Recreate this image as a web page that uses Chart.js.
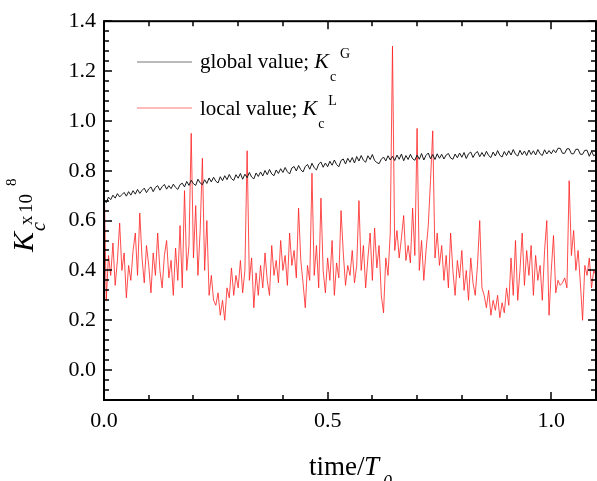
<!DOCTYPE html>
<html>
<head>
<meta charset="utf-8">
<script src="https://cdn.jsdelivr.net/npm/chart.js@4.4.1/dist/chart.umd.min.js"></script>
<style>
  html, body { margin: 0; padding: 0; background: #fff; }
  #wrap { width: 597px; height: 481px; }
</style>
</head>
<body>
<div id="wrap"><canvas id="c" width="597" height="481"></canvas></div>
<script>
// ---- data ----
const sampleCount = 221;          // samples from t = 0 to 1.1 in steps of 0.005
const timeStep = 0.005;
const time = Array.from({length: sampleCount}, (_, i) => +(i * timeStep).toFixed(3));

const globalValue = [
  0.685,0.672,0.694,0.684,0.702,0.690,0.708,0.695,0.704,0.713,
  0.698,0.716,0.702,0.720,0.706,0.725,0.709,0.721,0.730,0.712,
  0.727,0.735,0.716,0.733,0.740,0.722,0.736,0.745,0.726,0.740,
  0.728,0.746,0.733,0.725,0.744,0.750,0.735,0.757,0.741,0.762,
  0.748,0.741,0.766,0.751,0.744,0.764,0.749,0.771,0.755,0.774,
  0.758,0.751,0.776,0.760,0.780,0.764,0.785,0.768,0.761,0.784,
  0.770,0.789,0.766,0.786,0.772,0.793,0.775,0.767,0.791,0.777,
  0.795,0.779,0.801,0.784,0.805,0.787,0.780,0.803,0.789,0.808,
  0.793,0.813,0.796,0.787,0.811,0.817,0.799,0.821,0.804,0.795,
  0.817,0.825,0.806,0.830,0.812,0.803,0.827,0.835,0.814,0.831,
  0.816,0.838,0.822,0.843,0.825,0.816,0.841,0.847,0.827,0.850,
  0.834,0.853,0.831,0.857,0.839,0.861,0.842,0.834,0.860,0.845,
  0.865,0.841,0.833,0.828,0.846,0.855,0.839,0.860,0.843,0.858,
  0.841,0.863,0.846,0.867,0.840,0.861,0.845,0.866,0.848,0.842,
  0.863,0.846,0.869,0.843,0.862,0.871,0.848,0.865,0.845,0.868,
  0.850,0.866,0.847,0.863,0.869,0.851,0.846,0.867,0.852,0.871,
  0.854,0.873,0.849,0.868,0.875,0.853,0.870,0.877,0.856,0.873,
  0.857,0.878,0.861,0.853,0.875,0.859,0.881,0.862,0.855,0.877,
  0.861,0.880,0.863,0.885,0.866,0.859,0.882,0.864,0.879,0.861,
  0.883,0.865,0.880,0.863,0.885,0.868,0.861,0.884,0.867,0.881,
  0.868,0.884,0.872,0.890,0.890,0.870,0.870,0.888,0.888,0.868,
  0.868,0.886,0.886,0.866,0.866,0.882,0.882,0.858,0.878,0.860,
  0.866
];

const localValue = [
  0.80,0.28,0.46,0.38,0.51,0.34,0.44,0.59,0.40,0.47,
  0.29,0.42,0.36,0.48,0.55,0.38,0.63,0.45,0.35,0.50,
  0.42,0.31,0.47,0.38,0.55,0.40,0.33,0.46,0.52,0.37,
  0.44,0.30,0.49,0.36,0.58,0.33,0.72,0.40,0.50,0.95,
  0.45,0.66,0.38,0.56,0.85,0.40,0.60,0.30,0.38,0.28,
  0.26,0.31,0.22,0.28,0.20,0.33,0.29,0.41,0.30,0.38,
  0.33,0.44,0.31,0.40,0.88,0.36,0.45,0.25,0.39,0.30,
  0.42,0.33,0.47,0.36,0.30,0.50,0.38,0.44,0.35,0.52,
  0.40,0.46,0.34,0.55,0.42,0.48,0.37,0.65,0.44,0.35,
  0.25,0.42,0.36,0.79,0.38,0.50,0.33,0.69,0.40,0.31,
  0.45,0.36,0.52,0.30,0.43,0.37,0.64,0.47,0.34,0.42,
  0.38,0.48,0.35,0.42,0.68,0.40,0.50,0.33,0.45,0.55,
  0.36,0.57,0.41,0.50,0.30,0.23,0.45,0.38,0.55,1.30,
  0.48,0.56,0.45,0.53,0.62,0.44,0.50,0.43,0.65,0.46,
  0.97,0.40,0.52,0.36,0.48,0.58,0.76,0.96,0.45,0.55,
  0.42,0.50,0.36,0.46,0.33,0.55,0.40,0.30,0.44,0.37,
  0.48,0.32,0.40,0.28,0.45,0.35,0.30,0.42,0.60,0.33,
  0.30,0.25,0.32,0.22,0.28,0.24,0.30,0.21,0.27,0.23,
  0.33,0.26,0.45,0.30,0.52,0.28,0.40,0.55,0.34,0.48,
  0.38,0.50,0.30,0.46,0.36,0.42,0.28,0.48,0.60,0.22,
  0.40,0.54,0.31,0.36,0.34,0.35,0.37,0.33,0.76,0.46,
  0.56,0.40,0.48,0.35,0.20,0.42,0.38,0.45,0.33,0.40,
  0.38
];

const xTicks = [0.0, 0.5, 1.0];
const yTicks = [0.0, 0.2, 0.4, 0.6, 0.8, 1.0, 1.2, 1.4];
const xRange = [0, 1.1];
const yRange = [-0.12, 1.4];
const xMinorStep = 0.1;
const yMinorStep = 0.04;

const SERIF = '"Liberation Serif", "Times New Roman", serif';

const framePlugin = {
  id: 'framePlugin',
  afterDraw(chart) {
    const ctx = chart.ctx;
    const a = chart.chartArea;
    const xs = chart.scales.x, ys = chart.scales.y;
    ctx.save();
    ctx.fillStyle = '#000';
    // frame
    ctx.strokeStyle = '#000';
    ctx.lineWidth = 2;
    ctx.strokeRect(a.left, a.top, a.right - a.left, a.bottom - a.top);
    // inward ticks
    const nx = Math.round((xRange[1] - xRange[0]) / xMinorStep);
    for (let i = 0; i <= nx; i++) {
      const v = xRange[0] + i * xMinorStep;
      const p = Math.round(xs.getPixelForValue(v));
      const major = xTicks.some(t => Math.abs(t - v) < 1e-6);
      const len = major ? 8 : 5;
      ctx.fillRect(p - 0.75, a.bottom - len, 1.5, len);
      ctx.fillRect(p - 0.75, a.top, 1.5, len);
    }
    const ny = Math.round((yRange[1] - yRange[0]) / yMinorStep);
    for (let i = 0; i <= ny; i++) {
      const v = yRange[0] + i * yMinorStep;
      const p = Math.round(ys.getPixelForValue(v));
      const major = yTicks.some(t => Math.abs(t - v) < 1e-6);
      const len = major ? 8 : 5;
      ctx.fillRect(a.left, p - 0.75, len, 1.5);
      ctx.fillRect(a.right - len, p - 0.75, len, 1.5);
    }

    ctx.textBaseline = 'alphabetic';
    ctx.textAlign = 'left';

    // x axis title: time/T0
    ctx.font = '27px ' + SERIF;
    ctx.fillText('time/', 309, 475);
    ctx.font = 'italic 27px ' + SERIF;
    ctx.fillText('T', 364, 475);
    ctx.font = 'italic 18px ' + SERIF;
    ctx.fillText('0', 383, 488);

    // y axis title: Kc x10^8 (rotated)
    ctx.save();
    ctx.translate(33, 252);
    ctx.rotate(-Math.PI / 2);
    ctx.font = 'italic 30px ' + SERIF;
    ctx.fillText('K', 0, 0);
    ctx.font = 'italic 20px ' + SERIF;
    ctx.fillText('c', 21, 12);
    ctx.font = '19px ' + SERIF;
    ctx.fillText('x', 27, -1);
    ctx.fillText('10', 39, -1);
    ctx.font = '15px ' + SERIF;
    ctx.fillText('8', 66, -17);
    ctx.restore();

    // legend
    ctx.lineWidth = 1;
    ctx.strokeStyle = '#777';
    ctx.beginPath(); ctx.moveTo(137, 62); ctx.lineTo(192, 62); ctx.stroke();
    ctx.strokeStyle = '#f77';
    ctx.beginPath(); ctx.moveTo(137, 108); ctx.lineTo(192, 108); ctx.stroke();

    const entries = [
      {text: 'global value; ', sup: 'G', y: 68},
      {text: 'local value; ', sup: 'L', y: 115}
    ];
    for (const e of entries) {
      ctx.font = '21px ' + SERIF;
      ctx.fillText(e.text, 200, e.y);
      let x = 200 + ctx.measureText(e.text).width;
      ctx.font = 'italic 22px ' + SERIF;
      ctx.fillText('K', x, e.y);
      x += ctx.measureText('K').width + 1;
      ctx.font = '14px ' + SERIF;
      ctx.fillText('c', x, e.y + 13);
      ctx.fillText(e.sup, x + 10, e.y - 10);
    }
    ctx.restore();
  }
};

new Chart(document.getElementById('c'), {
  type: 'line',
  data: {
    datasets: [
      {
        label: 'global value',
        data: time.map((t, i) => ({x: t, y: globalValue[i]})),
        borderColor: '#1a1a1a',
        borderWidth: 1,
        pointRadius: 0,
        tension: 0
      },
      {
        label: 'local value',
        data: time.map((t, i) => ({x: t, y: localValue[i]})),
        borderColor: '#ff2020',
        borderWidth: 0.8,
        pointRadius: 0,
        tension: 0
      }
    ]
  },
  options: {
    responsive: false,
    animation: false,
    devicePixelRatio: 1,
    layout: { padding: { top: 21, right: 1, left: 0, bottom: 0 } },
    plugins: { legend: { display: false }, tooltip: { enabled: false } },
    scales: {
      x: {
        type: 'linear',
        min: xRange[0], max: xRange[1],
        grid: { display: false, drawTicks: false },
        border: { display: false },
        afterBuildTicks: s => { s.ticks = xTicks.map(v => ({value: v})); },
        afterFit: s => { s.height = 81; },
        ticks: {
          color: '#000',
          font: { family: SERIF, size: 22 },
          padding: 8,
          maxRotation: 0,
          callback: v => Number(v).toFixed(1)
        }
      },
      y: {
        type: 'linear',
        min: yRange[0], max: yRange[1],
        grid: { display: false, drawTicks: false },
        border: { display: false },
        afterBuildTicks: s => { s.ticks = yTicks.map(v => ({value: v})); },
        afterFit: s => { s.width = 104; },
        ticks: {
          color: '#000',
          font: { family: SERIF, size: 22 },
          padding: 8,
          callback: v => Number(v).toFixed(1)
        }
      }
    }
  },
  plugins: [framePlugin]
});
</script>
</body>
</html>
